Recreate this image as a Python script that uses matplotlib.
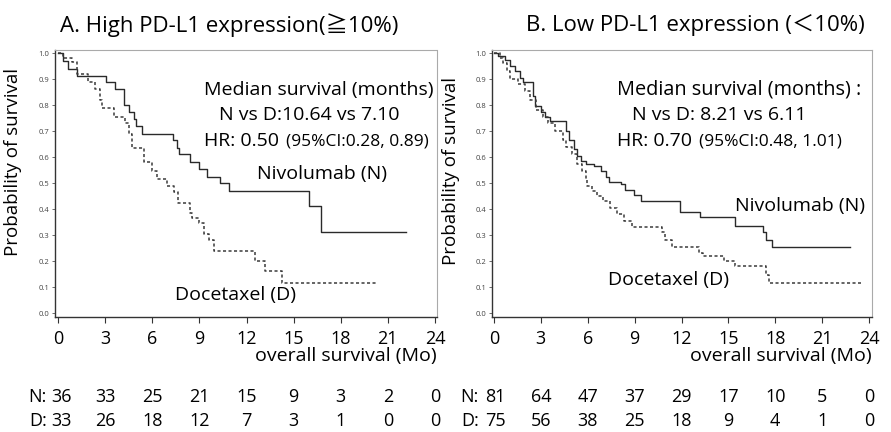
import matplotlib
matplotlib.use("Agg")
import matplotlib.pyplot as plt
import matplotlib.transforms as mtransforms

plt.rcParams['font.family'] = ['Open Sans', 'Noto Sans CJK JP', 'DejaVu Sans']

# ---------------- data ----------------
months = [0, 3, 6, 9, 12, 15, 18, 21, 24]
y_ticks = [0.0, 0.1, 0.2, 0.3, 0.4, 0.5, 0.6, 0.7, 0.8, 0.9, 1.0]

a_niv_t = [0, 0.34, 0.65, 1.2, 3.06, 3.6, 4.2, 4.5, 4.81, 4.98, 5.34, 7.32, 7.57, 7.7,
           8.38, 9.0, 9.5, 10.34, 10.87, 15.97, 16.72, 22.15]
a_niv_s = [1.0, 0.97, 0.94, 0.91, 0.89, 0.86, 0.80, 0.775, 0.745, 0.72, 0.69, 0.665, 0.635,
           0.61, 0.58, 0.555, 0.525, 0.50, 0.47, 0.41, 0.31, 0.31]

a_doc_t = [0, 0.34, 0.87, 1.2, 1.93, 2.36, 2.68, 2.8, 3.55, 4.28, 4.49, 4.7, 5.45, 5.98,
           6.3, 6.94, 7.36, 7.62, 8.38, 8.5, 9.0, 9.28, 9.6, 9.91, 12.57, 13.2, 14.27, 20.34]
a_doc_s = [1.0, 0.98, 0.965, 0.92, 0.89, 0.86, 0.82, 0.79, 0.755, 0.73, 0.69, 0.635, 0.58,
           0.545, 0.515, 0.49, 0.465, 0.425, 0.385, 0.365, 0.345, 0.305, 0.28, 0.24, 0.20,
           0.16, 0.115, 0.115]

b_niv_t = [0, 0.28, 0.7, 1.0, 1.34, 1.66, 1.87, 2.5, 2.6, 3.03, 3.24, 3.56, 4.6, 4.8, 5.12,
           5.34, 5.55, 5.87, 6.4, 6.83, 7.15, 7.36, 8.1, 8.4, 8.96, 9.4, 11.88, 13.18, 15.4,
           17.2, 17.4, 17.8, 22.8]
b_niv_s = [1.0, 0.99, 0.975, 0.95, 0.93, 0.905, 0.89, 0.835, 0.795, 0.775, 0.755, 0.74, 0.70,
           0.665, 0.63, 0.605, 0.585, 0.575, 0.565, 0.545, 0.525, 0.505, 0.495, 0.475, 0.455,
           0.43, 0.39, 0.37, 0.335, 0.31, 0.28, 0.255, 0.255]

b_doc_t = [0, 0.38, 0.6, 0.8, 1.0, 1.55, 1.98, 2.3, 2.7, 3.15, 3.45, 3.9, 4.4, 4.6, 5.0, 5.34,
           5.66, 5.87, 5.97, 6.3, 6.6, 7.0, 7.45, 7.87, 8.3, 8.8, 10.75, 10.96, 11.38, 13.1,
           13.4, 14.7, 15.4, 17.4, 17.6, 23.5]
b_doc_s = [1.0, 0.98, 0.96, 0.93, 0.90, 0.88, 0.855, 0.82, 0.78, 0.755, 0.73, 0.70, 0.665,
           0.64, 0.61, 0.575, 0.545, 0.515, 0.49, 0.47, 0.45, 0.43, 0.405, 0.38, 0.355, 0.33,
           0.31, 0.28, 0.255, 0.23, 0.22, 0.20, 0.18, 0.145, 0.115, 0.115]

a_risk_n = [36, 33, 25, 21, 15, 9, 3, 2, 0]
a_risk_d = [33, 26, 18, 12, 7, 3, 1, 0, 0]
b_risk_n = [81, 64, 47, 37, 29, 17, 10, 5, 0]
b_risk_d = [75, 56, 38, 25, 18, 9, 4, 1, 0]

title_a = "A. High PD-L1 expression(≧10%)"
title_b = "B. Low PD-L1 expression (＜10%)"
med_a = ["Median survival (months)", "N vs D:10.64 vs 7.10", "HR: 0.50", "(95%CI:0.28, 0.89)"]
med_b = ["Median survival (months) :", "N vs D: 8.21 vs 6.11", "HR: 0.70", "(95%CI:0.48, 1.01)"]

# ---------------- figure ----------------
W, H = 891, 432
fig = plt.figure(figsize=(W / 100, H / 100), dpi=100)

def fx(px):
    return px / W

def fy(py):
    return 1 - py / H

def make_axes(left_px, right_px, x0_px, x24_px):
    ax = fig.add_axes([fx(left_px), fy(317), fx(right_px - left_px), (317 - 50) / H])
    ppm = (x24_px - x0_px) / 24.0
    ax.set_xlim(-(x0_px - left_px) / ppm, 24 + (right_px - x24_px) / ppm)
    ax.set_ylim(-4 / 260, 1 + 3 / 260)
    ax.set_xticks(months)
    ax.set_xticklabels([str(m) for m in months], fontsize=13)
    ax.set_yticks(y_ticks)
    ax.set_yticklabels([f"{v:.1f}" for v in y_ticks], fontsize=5.5, color='#444444')
    ax.tick_params(axis='x', direction='out', length=4, width=0.8, pad=5, color='#333333')
    ax.tick_params(axis='y', direction='out', length=2, width=0.6, pad=2, color='#555555')
    for s in ['left', 'bottom']:
        ax.spines[s].set_color('#333333')
        ax.spines[s].set_linewidth(1.0)
    for s in ['top', 'right']:
        ax.spines[s].set_color('#aaaaaa')
        ax.spines[s].set_linewidth(0.8)
        ax.spines[s].set_linestyle((0, (1, 1)))
    ax.set_ylabel("Probability of survival", fontsize=13.5)
    return ax

axA = make_axes(55, 437, 58, 435)
axB = make_axes(492, 872, 494, 869)
axA.yaxis.set_label_coords((22 - 55) / 382, 0.58)
axB.yaxis.set_label_coords((460 - 492) / 380, 0.545)

for ax, nt, ns, dt, ds in [(axA, a_niv_t, a_niv_s, a_doc_t, a_doc_s),
                           (axB, b_niv_t, b_niv_s, b_doc_t, b_doc_s)]:
    ax.step(nt, ns, where='post', color='#2a2a2a', lw=1.0)
    ax.step(dt, ds, where='post', color='#3a3a3a', lw=1.1, linestyle=(0, (2, 1.6)))

# titles
fig.text(fx(229), fy(25), title_a, fontsize=16, ha='center', va='center')
fig.text(fx(695), fy(25), title_b, fontsize=16, ha='center', va='center')

# annotations panel A
fig.text(fx(204), fy(90), med_a[0], fontsize=14, ha='left', va='center')
fig.text(fx(219), fy(115), med_a[1], fontsize=14, ha='left', va='center')
fig.text(fx(204), fy(141), med_a[2], fontsize=14, ha='left', va='center')
fig.text(fx(286), fy(142), med_a[3], fontsize=12.5, ha='left', va='center')
fig.text(fx(257), fy(174), "Nivolumab (N)", fontsize=14, ha='left', va='center')
fig.text(fx(175), fy(295), "Docetaxel (D)", fontsize=14, ha='left', va='center')

# annotations panel B
fig.text(fx(617), fy(90), med_b[0], fontsize=14.3, ha='left', va='center')
fig.text(fx(632), fy(115), med_b[1], fontsize=14, ha='left', va='center')
fig.text(fx(617), fy(141), med_b[2], fontsize=14, ha='left', va='center')
fig.text(fx(699), fy(142), med_b[3], fontsize=12.5, ha='left', va='center')
fig.text(fx(735), fy(206), "Nivolumab (N)", fontsize=14, ha='left', va='center')
fig.text(fx(608), fy(280), "Docetaxel (D)", fontsize=14, ha='left', va='center')

# x axis titles
fig.text(fx(437), fy(356), "overall survival (Mo)", fontsize=14, ha='right', va='center')
fig.text(fx(872), fy(356), "overall survival (Mo)", fontsize=14, ha='right', va='center')

# numbers at risk
for ax, rn, rd, lab_px, first_off in [(axA, a_risk_n, a_risk_d, 47, 4),
                                      (axB, b_risk_n, b_risk_d, 479, 1)]:
    trans = mtransforms.blended_transform_factory(ax.transData, fig.transFigure)
    for i, m in enumerate(months):
        t = trans
        if i == 0:
            t = trans + mtransforms.ScaledTranslation(first_off / 100, 0, fig.dpi_scale_trans)
        ax.text(m, fy(397), str(rn[i]), transform=t, fontsize=13, ha='center',
                va='center', clip_on=False)
        ax.text(m, fy(421), str(rd[i]), transform=t, fontsize=13, ha='center',
                va='center', clip_on=False)
    fig.text(fx(lab_px), fy(397), "N:", fontsize=13, ha='right', va='center')
    fig.text(fx(lab_px), fy(421), "D:", fontsize=13, ha='right', va='center')

fig.savefig("out.png", dpi=100)
